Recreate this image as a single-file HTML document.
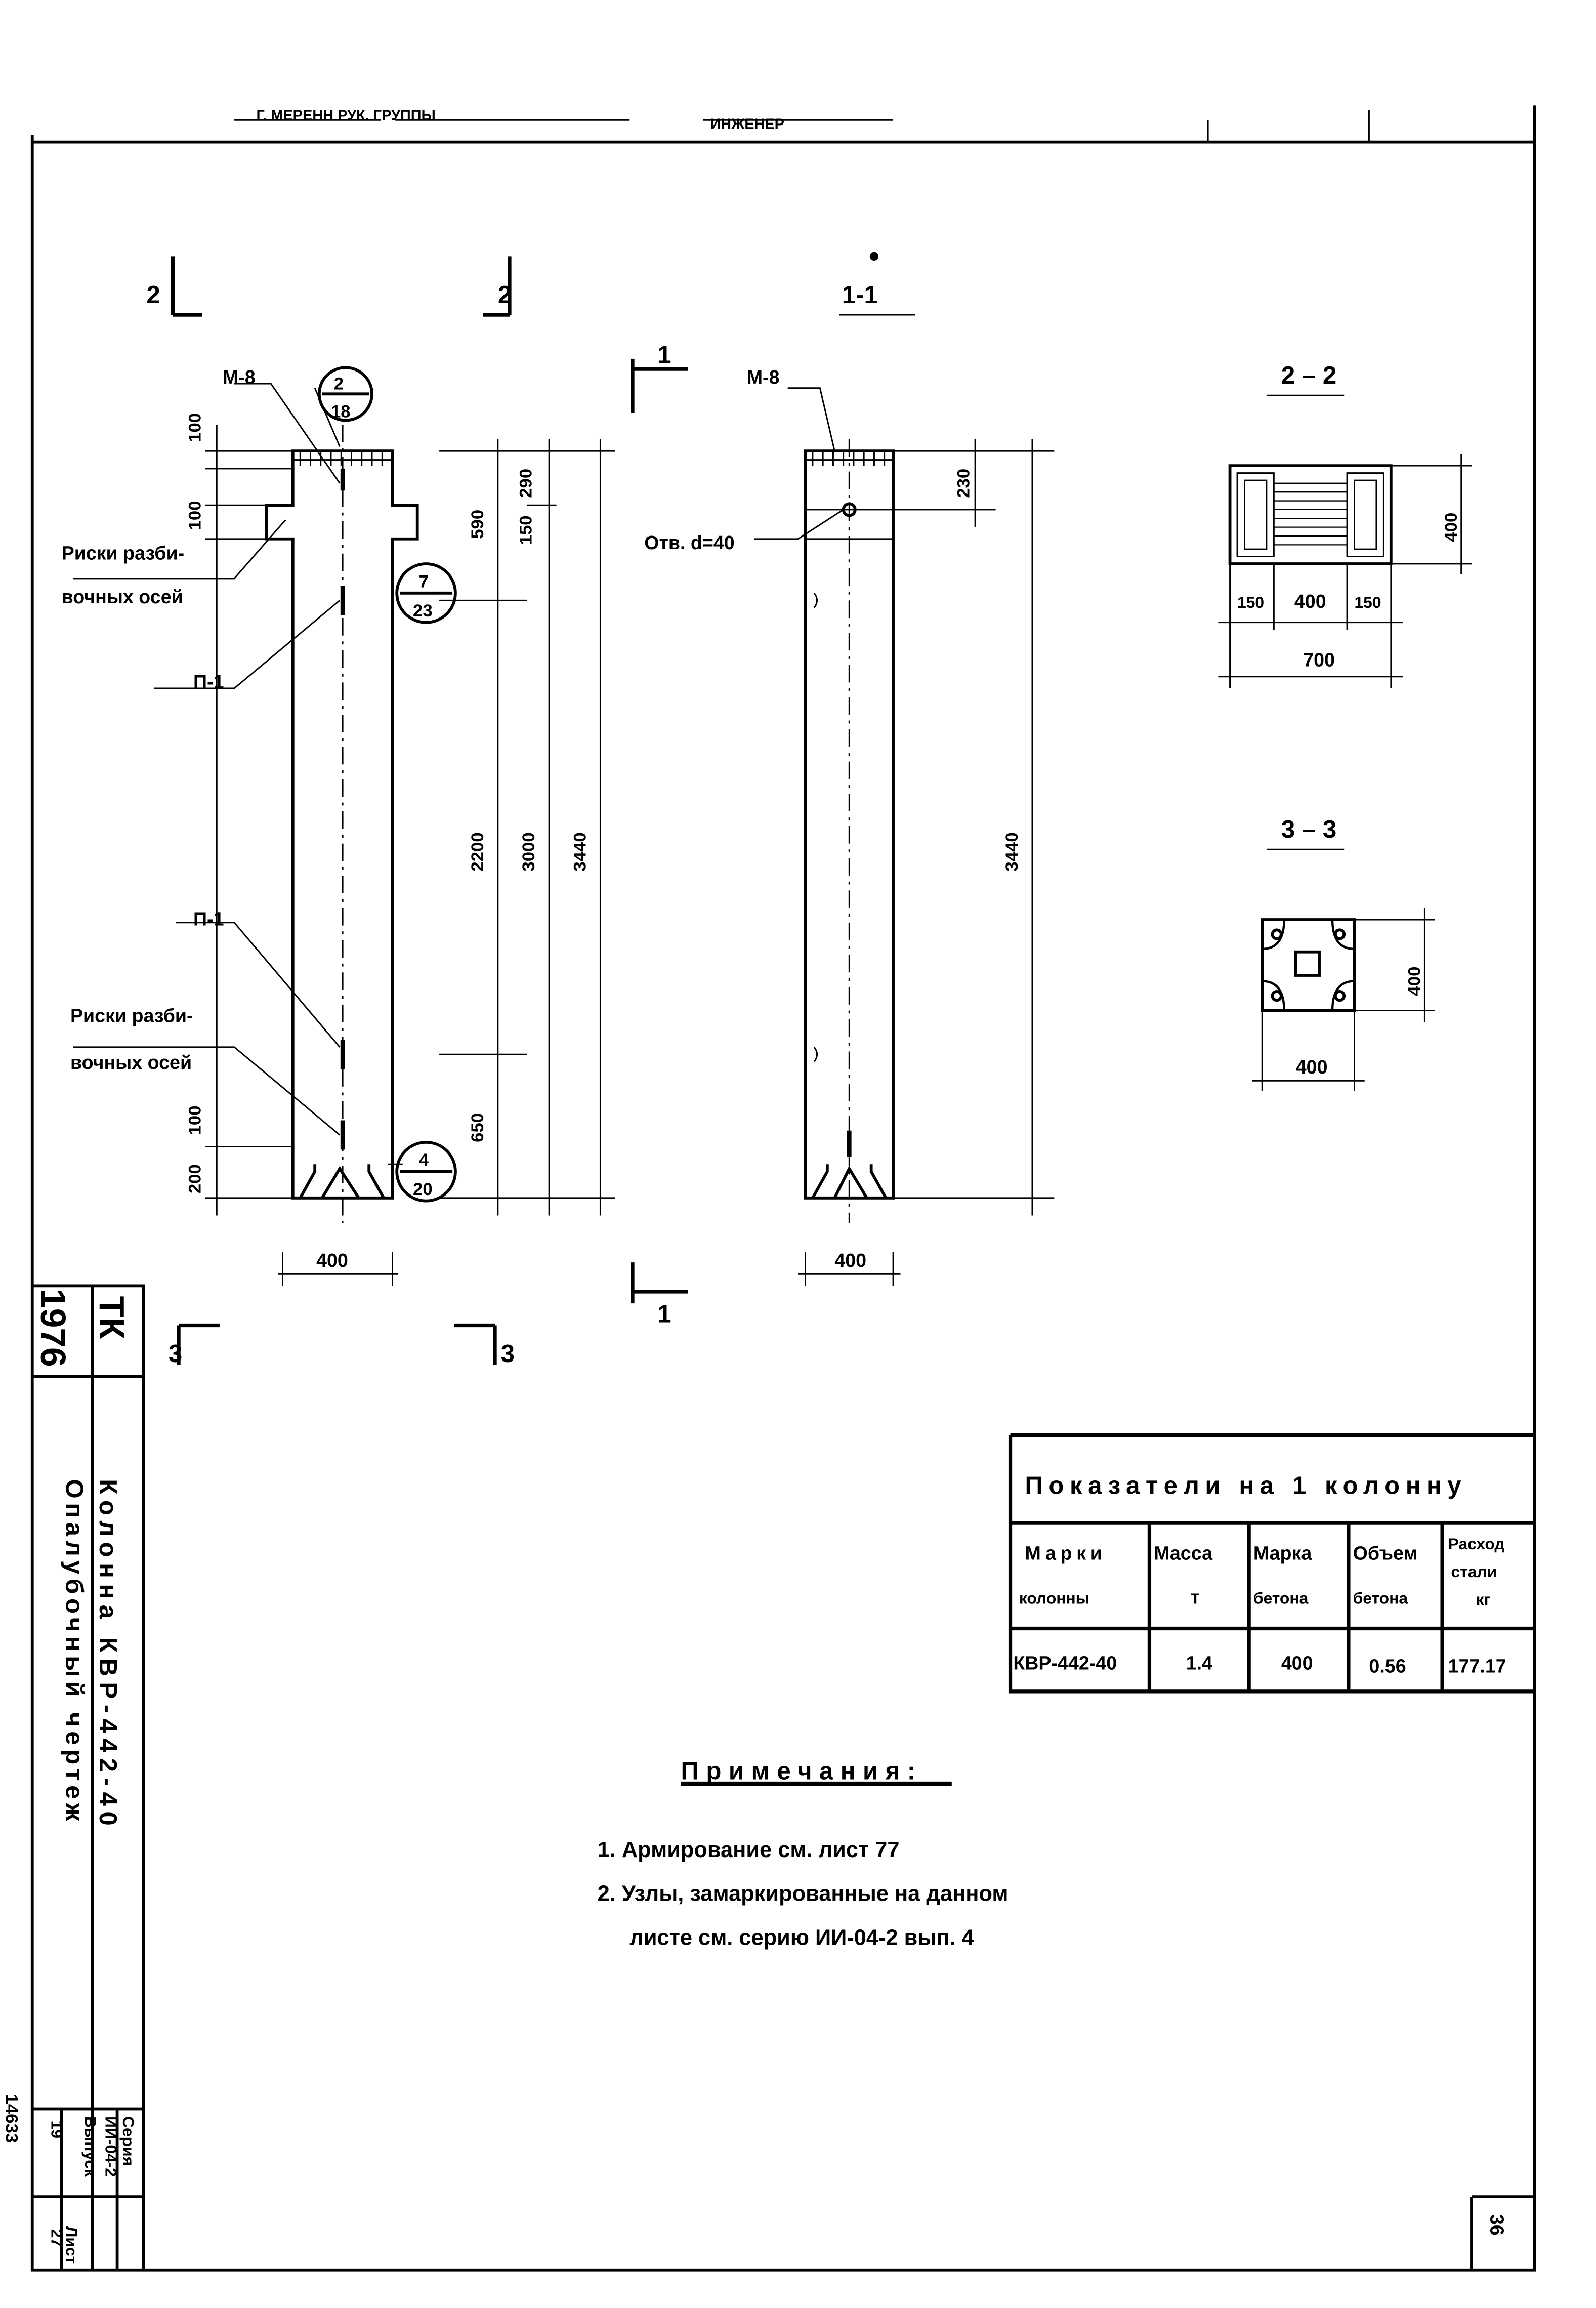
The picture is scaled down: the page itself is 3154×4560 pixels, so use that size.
<!DOCTYPE html>
<html><head><meta charset="utf-8"><style>
html,body{margin:0;padding:0;background:#fff}
svg{display:block}
text{font-family:"Liberation Sans",sans-serif;font-weight:bold;fill:#000}
</style></head><body>
<svg width="3154" height="4560" viewBox="0 0 1090 1576" xmlns="http://www.w3.org/2000/svg">
<g stroke="#000" fill="none" stroke-width="2">
<!-- frame -->
<path d="M22 92V1550H1048V72M22 97H1048"/>
<path d="M22 878H98V1550M63 878V1550M22 940H98M22 1440H98M22 1500H98M42 1440V1550M80 1440V1550"/>
<path d="M1005 1500H1048M1005 1500V1550"/>
<!-- table -->
<path stroke-width="2.5" d="M690 980H1048M690 980V1155H1048M690 1040H1048M690 1112H1048M785 1040V1155M853 1040V1155M921 1040V1155M985 1040V1155"/>
<!-- left column -->
<path stroke-width="2" d="M200 308H268V345H285V368H268V818H200V368H182V345H200Z"/>
<path stroke-width="1" d="M200 314H268M205 308V318M212 308V318M219 308V318M226 308V318M233 308V318M240 308V318M247 308V318M254 308V318M261 308V318"/>
<path d="M205 818L215 800V795M262 818L252 800V795M220 818L232 798L245 818"/>
<path stroke-width="1" stroke-dasharray="12 4 2 4" d="M234 290V835"/>
<path stroke-width="3" d="M234 320V335M234 400V420M234 710V730M234 765V785"/>
<!-- leaders -->
<path stroke-width="1" d="M160 262H185L232 330M215 265L232 305M50 395H160L195 355M105 470H160L232 410M120 630H160L232 715M50 715H160L232 775M265 795H275"/>
<!-- left dims -->
<path stroke-width="1" d="M140 308H200M140 320H200M140 345H182M140 368H182M140 783H200M140 818H200M148 290V830M300 308H420M300 410H360M300 720H360M300 818H420M340 300V830M375 300V830M410 300V830M360 345H380"/>
<path stroke-width="1" d="M193 878V855M268 878V855M190 870H272"/>
<!-- section marks -->
<path stroke-width="2.5" d="M118 175V215M118 215H138M330 215H348M348 175V215M122 905H150M122 905V932M338 905H310M338 905V932M432 245V282M432 252H470M432 862V890M432 882H470"/>
<!-- right column -->
<path d="M550 308H610V818H550Z"/>
<path stroke-width="1" d="M550 314H610M555 308V318M562 308V318M569 308V318M576 308V318M583 308V318M590 308V318M597 308V318M604 308V318M550 368H610M550 348H610"/>
<path d="M555 818L565 800V795M605 818L595 800V795M570 818L580 798L592 818"/>
<path stroke-width="1" stroke-dasharray="12 4 2 4" d="M580 300V835"/>
<path stroke-width="3" d="M580 772V790"/>
<circle cx="580" cy="348" r="4"/>
<path stroke-width="1" d="M538 265H560L570 308M515 368H545L576 348M610 308H720M610 348H680M610 818H720M666 300V360M705 300V830M550 878V855M610 878V855M545 870H615M573 215H625"/>
<path stroke-width="1" d="M556 405q4 5 0 10M556 715q4 5 0 10"/>
<!-- 2-2 -->
<path d="M840 318H950V385H840Z"/>
<path stroke-width="1" d="M845 323H870V380H845ZM920 323H945V380H920ZM850 328H865V375H850ZM925 328H940V375H925Z"/>
<path stroke-width="0.8" d="M870 330H920M870 336H920M870 342H920M870 348H920M870 354H920M870 360H920M870 366H920M870 372H920"/>
<path stroke-width="1" d="M950 318H1005M950 385H1005M998 310V392M840 385V470M870 385V430M920 385V430M950 385V470M832 425H958M832 462H958M865 270H918M865 580H918"/>
<!-- 3-3 -->
<path d="M862 628H925V690H862Z"/>
<rect x="885" y="650" width="16" height="16"/>
<circle cx="872" cy="638" r="3"/><circle cx="915" cy="638" r="3"/><circle cx="872" cy="680" r="3"/><circle cx="915" cy="680" r="3"/>
<path stroke-width="1.5" d="M862 648q15 0 15-20M925 648q-15 0-15-20M862 670q15 0 15 20M925 670q-15 0-15 20"/>
<path stroke-width="1" d="M925 628H980M925 690H980M973 620V698M862 690V745M925 690V745M855 738H932"/>
<!-- circles -->
<circle cx="236" cy="269" r="18"/><path d="M220 269H252"/>
<circle cx="291" cy="405" r="20"/><path d="M273 405H309"/>
<circle cx="291" cy="800" r="20"/><path d="M273 800H309"/>
<!-- top garbage line -->
<path stroke-width="1" d="M160 82H260M270 82H430M480 82H610M825 82V97M935 75V97"/>
<path stroke-width="3" d="M465 1218H650"/>
</g>
<circle cx="597" cy="175" r="3"/>
<g font-size="17">
<text x="100" y="207">2</text><text x="340" y="207">2</text><text x="575" y="207">1-1</text>
<text x="449" y="248">1</text><text x="449" y="903">1</text>
<text x="115" y="930">3</text><text x="342" y="930">3</text>
<text x="875" y="262">2 – 2</text><text x="875" y="572">3 – 3</text>
</g>
<g font-size="13">
<text x="152" y="262">М-8</text><text x="510" y="262">М-8</text>
<text x="42" y="382">Риски разби-</text><text x="42" y="412">вочных осей</text>
<text x="132" y="470">П-1</text><text x="132" y="632">П-1</text>
<text x="48" y="698">Риски разби-</text><text x="48" y="730">вочных осей</text>
<text x="440" y="375">Отв. d=40</text>
<text x="228" y="266" font-size="12">2</text><text x="226" y="285" font-size="12">18</text>
<text x="286" y="401" font-size="12">7</text><text x="282" y="421" font-size="12">23</text>
<text x="286" y="796" font-size="12">4</text><text x="282" y="816" font-size="12">20</text>
<text x="216" y="865">400</text><text x="570" y="865">400</text>
<text x="884" y="415">400</text><text x="845" y="415" font-size="11">150</text><text x="925" y="415" font-size="11">150</text>
<text x="890" y="455">700</text><text x="885" y="733">400</text>
</g>
<g font-size="12">
<text transform="translate(137 302) rotate(-90)">100</text>
<text transform="translate(137 362) rotate(-90)">100</text>
<text transform="translate(137 775) rotate(-90)">100</text>
<text transform="translate(137 815) rotate(-90)">200</text>
<text transform="translate(330 368) rotate(-90)">590</text>
<text transform="translate(363 340) rotate(-90)">290</text>
<text transform="translate(363 372) rotate(-90)">150</text>
<text transform="translate(330 595) rotate(-90)">2200</text>
<text transform="translate(365 595) rotate(-90)">3000</text>
<text transform="translate(400 595) rotate(-90)">3440</text>
<text transform="translate(330 780) rotate(-90)">650</text>
<text transform="translate(662 340) rotate(-90)">230</text>
<text transform="translate(695 595) rotate(-90)">3440</text>
<text transform="translate(995 370) rotate(-90)">400</text>
<text transform="translate(970 680) rotate(-90)">400</text>
</g>
<!-- title strip -->
<g font-size="24">
<text transform="translate(28 880) rotate(90)">1976</text>
<text transform="translate(68 885) rotate(90)">ТК</text>
</g>
<g font-size="17">
<text transform="translate(68 1010) rotate(90)" letter-spacing="4">Колонна КВР-442-40</text>
<text transform="translate(45 1010) rotate(90)" letter-spacing="3">Опалубочный чертеж</text>
</g>
<g font-size="11">
<text transform="translate(84 1445) rotate(90)">Серия</text>
<text transform="translate(72 1445) rotate(90)">ИИ-04-2</text>
<text transform="translate(58 1445) rotate(90)">Выпуск</text>
<text transform="translate(45 1520) rotate(90)">Лист</text>
<text transform="translate(35 1448) rotate(90)">19</text>
<text transform="translate(35 1522) rotate(90)">27</text>
<text transform="translate(1018 1512) rotate(90)" font-size="13">36</text>
<text transform="translate(4 1430) rotate(90)" font-size="12">14633</text>
</g>
<!-- table text -->
<g font-size="17"><text x="700" y="1020" letter-spacing="4">Показатели на 1 колонну</text></g>
<g font-size="13">
<text x="700" y="1065" letter-spacing="3">Марки</text><text x="696" y="1095" font-size="11">колонны</text>
<text x="788" y="1065">Масса</text><text x="813" y="1095">т</text>
<text x="856" y="1065">Марка</text><text x="856" y="1095" font-size="11">бетона</text>
<text x="924" y="1065">Объем</text><text x="924" y="1095" font-size="11">бетона</text>
<text x="989" y="1058" font-size="11">Расход</text><text x="991" y="1077" font-size="11">стали</text><text x="1008" y="1096" font-size="11">кг</text>
<text x="692" y="1140">КВР-442-40</text><text x="810" y="1140">1.4</text><text x="875" y="1140">400</text>
<text x="935" y="1142">0.56</text><text x="989" y="1142">177.17</text>
</g>
<g font-size="17"><text x="465" y="1215" letter-spacing="5">Примечания:</text></g>
<g font-size="15">
<text x="408" y="1268">1. Армирование см. лист 77</text>
<text x="408" y="1298">2. Узлы, замаркированные на данном</text>
<text x="430" y="1328">листе  см. серию ИИ-04-2 вып. 4</text>
</g>
<g font-size="10"><text x="175" y="82">Г. МЕРЕНН  РУК. ГРУППЫ</text><text x="485" y="88">ИНЖЕНЕР</text></g>
</svg>
</body></html>
